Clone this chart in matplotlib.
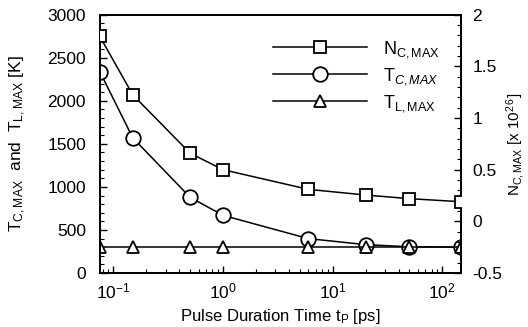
import numpy as np
import matplotlib
matplotlib.use("Agg")
import matplotlib.pyplot as plt
from matplotlib.ticker import MultipleLocator, LogLocator, NullFormatter

plt.rcParams['font.family'] = ['Liberation Sans', 'DejaVu Sans']
plt.rcParams['mathtext.fontset'] = 'custom'
plt.rcParams['mathtext.rm'] = 'Liberation Sans'
plt.rcParams['mathtext.it'] = 'Liberation Sans:italic'

# pulse duration [ps]
tp = [0.075, 0.15, 0.5, 1.0, 6.0, 20.0, 50.0, 150.0]
# N_C,MAX [x 10^26] (right axis)
n_c = [1.79, 1.225, 0.66, 0.50, 0.31, 0.255, 0.22, 0.19]
# T_C,MAX [K]
t_c = [2340, 1570, 880, 670, 400, 330, 305, 300]
# T_L,MAX [K]
t_l = [300, 300, 300, 300, 300, 300, 300, 300]

fig = plt.figure(figsize=(5.28, 3.27), dpi=100)
ax = fig.add_axes([0.189, 0.165, 0.685, 0.79])
ax2 = ax.twinx()

ax2.plot(tp, n_c, '-s', color='black', mfc='white', mec='black', ms=8, mew=1.3, lw=1.1,
         label=r'$\mathregular{N_{C,MAX}}$', zorder=3)
l2, = ax.plot(tp, t_c, '-o', color='black', mfc='white', mec='black', ms=10.5, mew=1.3, lw=1.1,
              label=r'$\mathregular{T}_{C,MAX}$')
l3, = ax.plot(tp, t_l, '-^', color='black', mfc='white', mec='black', ms=8.5, mew=1.3, lw=1.1,
              label=r'$\mathregular{T_{L,MAX}}$')

ax.set_xscale('log')
ax.set_xlim(0.075, 150)
ax.set_ylim(0, 3000)
ax2.set_ylim(-0.5, 2)
ax.yaxis.set_major_locator(MultipleLocator(500))
ax.yaxis.set_minor_locator(MultipleLocator(100))
ax2.yaxis.set_minor_locator(MultipleLocator(0.1))
ax2.set_yticks([-0.5, 0, 0.5, 1, 1.5, 2])
ax2.set_yticklabels(['-0.5', '0', '0.5', '1', '1.5', '2'])
ax.xaxis.set_major_locator(LogLocator(base=10, numticks=10))
ax.xaxis.set_minor_locator(LogLocator(base=10, subs=np.arange(2, 10), numticks=10))
ax.xaxis.set_minor_formatter(NullFormatter())

for a in (ax, ax2):
    a.tick_params(which='both', direction='in', labelsize=12.5)
    a.tick_params(which='major', length=5, width=1)
    a.tick_params(which='minor', length=3, width=0.8)
    for s in a.spines.values():
        s.set_linewidth(1.3)
ax.tick_params(axis='x', pad=6)
ax.tick_params(axis='y', pad=10)
ax2.tick_params(axis='y', pad=8)

ax.set_xlabel(r'Pulse Duration Time $\mathregular{t_P}$ [ps]', fontsize=12)
ax.set_ylabel(r'$\mathregular{T_{C,MAX}}$  and  $\mathregular{T_{L,MAX}}$ [K]', fontsize=12.5, labelpad=14)
ax2.set_ylabel(r'$\mathregular{N_{C,MAX}}$ [x 10$^{\mathregular{2\,6}}$]', fontsize=11, labelpad=1)

h1, lb1 = ax2.get_legend_handles_labels()
ax2.legend(h1 + [l2, l3], lb1 + [l2.get_label(), l3.get_label()],
           loc='upper right', bbox_to_anchor=(0.985, 0.97), frameon=False,
           fontsize=13, handlelength=5.2, handletextpad=0.9, labelspacing=0.35)

fig.savefig('out.png', dpi=100)
